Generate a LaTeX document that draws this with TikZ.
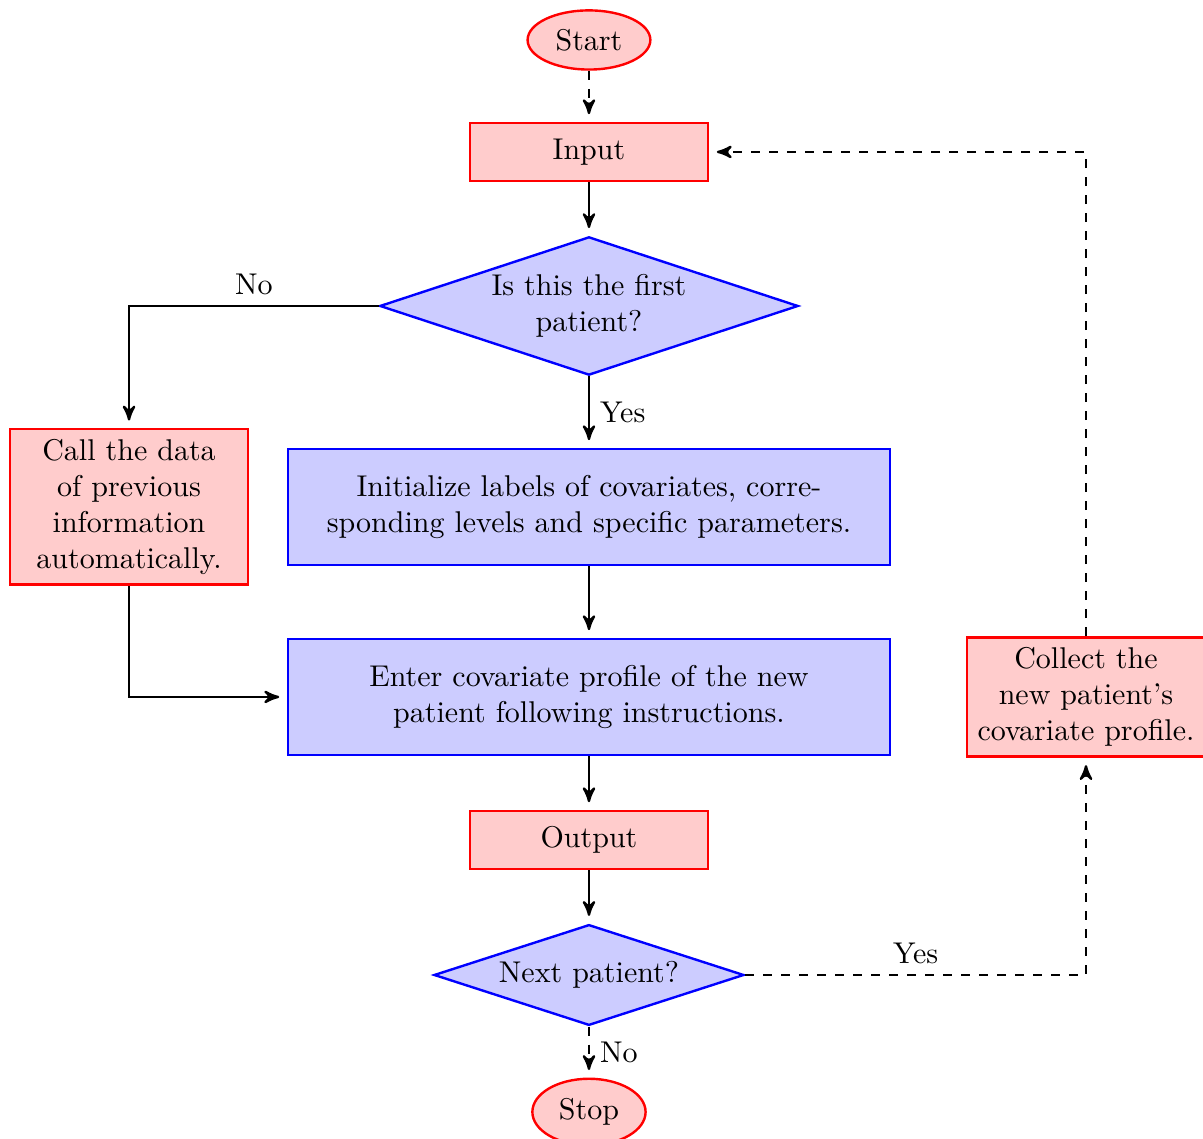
\documentclass[tikz,border=0pt]{standalone}
\usepackage{tikz}
\usetikzlibrary{arrows,shapes.geometric}

\begin{document}
\begin{tikzpicture}[
  startstop/.style={ellipse,draw=red,fill=red!20,thick},
  redbox/.style={rectangle,draw=red,fill=red!20,thick,minimum width=2.79cm,minimum height=0.68cm,align=center},
  bluebox/.style={rectangle,draw=blue,fill=blue!20,thick,minimum width=7.05cm,minimum height=1.36cm,align=center},
  decision/.style={diamond,draw=blue,fill=blue!20,thick,aspect=3,inner sep=0pt,align=center},
  line/.style={thick,-stealth',shorten >=2.5pt}]
                      \useasboundingbox (-6.897,0.468) rectangle (7.190,-12.869);
                      \node[startstop](start)at(0,0){Start};
                      \node[redbox](input)at(0,-1.311){Input};
                      \node[decision,minimum width=4.9cm,minimum height=1.62cm](first)at(0,-3.115){Is this the first\\patient?};
                      \node[bluebox](init)at(0,-5.468){Initialize labels of covariates, corre-\\sponding levels and specific parameters.};
                      \node[redbox](call)at(-5.386,-5.468){Call the data\\of previous\\information\\automatically.};
                      \node[bluebox](enter)at(0,-7.693){Enter covariate profile of the new\\patient following instructions.};
                      \node[redbox](collect)at(5.820,-7.693){Collect the\\new patient's\\covariate profile.};
                      \node[redbox](output)at(0,-9.368){Output};
                      \node[decision,minimum width=3.63cm,minimum height=1.18cm](next)at(0,-10.949){Next patient?};
                      \node[startstop](stop)at(0,-12.553){Stop};
                      \draw[line,dashed] (start) -- (input);
                      \draw[line] (input) -- (first);
                      \draw[line] (first.west) -| node[above,pos=0.25]{No} (call.north);
                      \draw[line] (first) -- node[right]{Yes} (init);
                      \draw[line] (init) -- (enter);
                      \draw[line] (call.south) |- (enter.west);
                      \draw[line] (enter) -- (output);
                      \draw[line] (output) -- (next);
                      \draw[line,dashed] (next) -- node[right]{No} (stop);
                      \draw[line,dashed] (next.east) -| node[above,pos=0.25]{Yes} (collect.south);
                      \draw[line,dashed] (collect.north) |- (input.east);
                  \end{tikzpicture}
\end{document}
